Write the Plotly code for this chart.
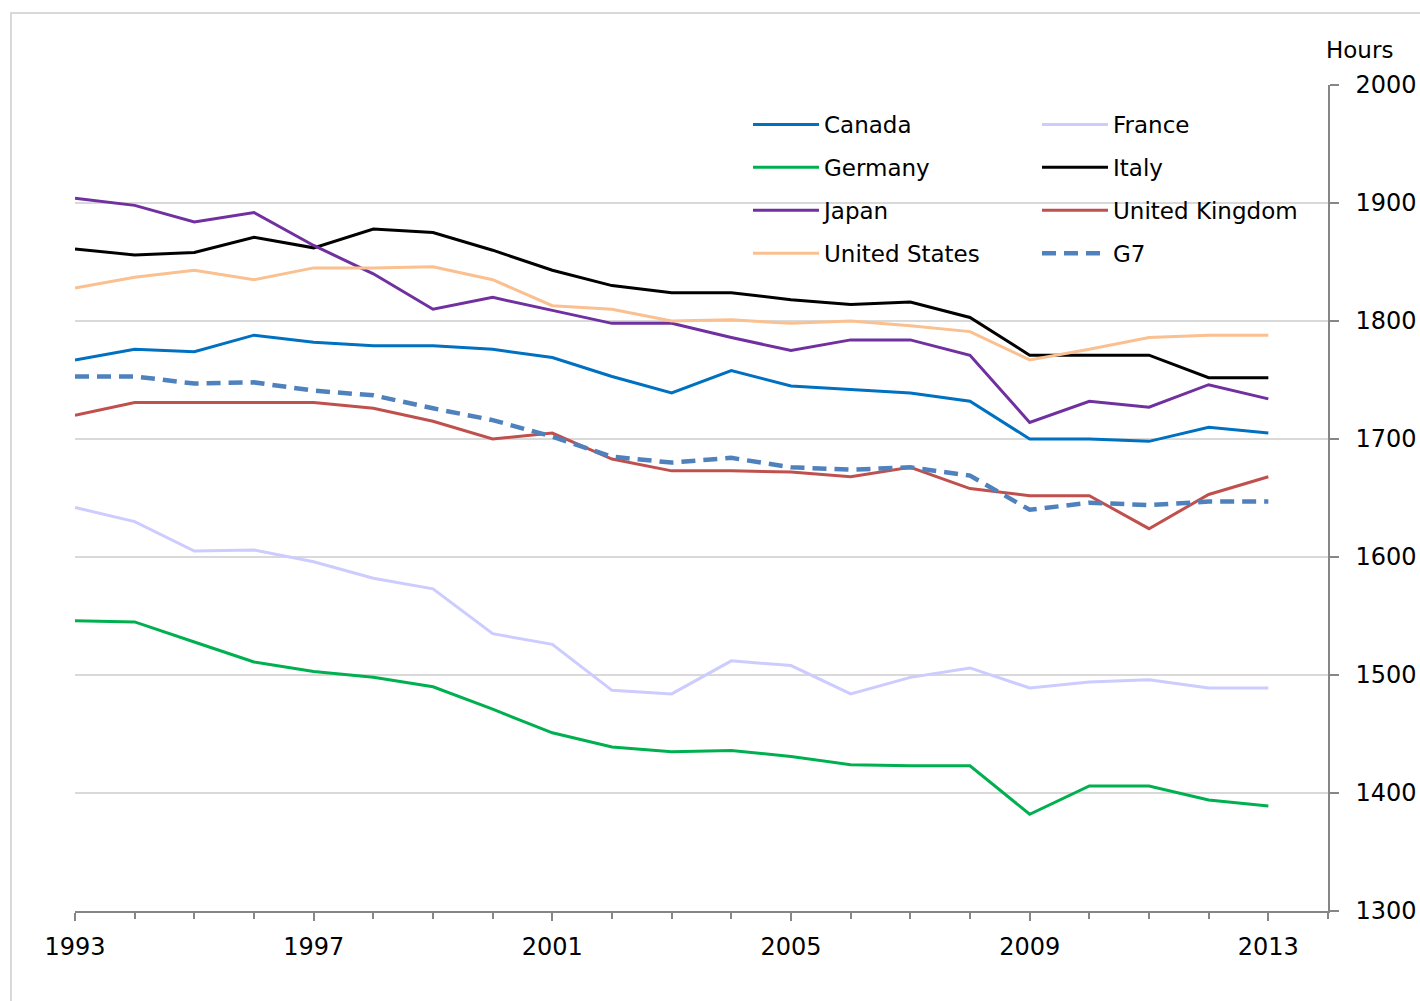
import plotly.graph_objects as go

years = list(range(1993, 2014))

canada = [1767, 1776, 1774, 1788, 1782, 1779, 1779, 1776, 1769, 1753, 1739,
          1758, 1745, 1742, 1739, 1732, 1700, 1700, 1698, 1710, 1705]
france = [1642, 1630, 1605, 1606, 1596, 1582, 1573, 1535, 1526, 1487, 1484,
          1512, 1508, 1484, 1498, 1506, 1489, 1494, 1496, 1489, 1489]
germany = [1546, 1545, 1528, 1511, 1503, 1498, 1490, 1471, 1451, 1439, 1435,
           1436, 1431, 1424, 1423, 1423, 1382, 1406, 1406, 1394, 1389]
italy = [1861, 1856, 1858, 1871, 1862, 1878, 1875, 1860, 1843, 1830, 1824,
         1824, 1818, 1814, 1816, 1803, 1771, 1771, 1771, 1752, 1752]
japan = [1904, 1898, 1884, 1892, 1864, 1840, 1810, 1820, 1809, 1798, 1798,
         1786, 1775, 1784, 1784, 1771, 1714, 1732, 1727, 1746, 1734]
uk = [1720, 1731, 1731, 1731, 1731, 1726, 1715, 1700, 1705, 1683, 1673,
      1673, 1672, 1668, 1676, 1658, 1652, 1652, 1624, 1653, 1668]
us = [1828, 1837, 1843, 1835, 1845, 1845, 1846, 1835, 1813, 1810, 1800,
      1801, 1798, 1800, 1796, 1791, 1767, 1776, 1786, 1788, 1788]
g7 = [1753, 1753, 1747, 1748, 1741, 1737, 1726, 1716, 1702, 1685, 1680,
      1684, 1676, 1674, 1676, 1669, 1640, 1646, 1644, 1647, 1647]

series = [
    ("Canada", canada, "#0070c0", "solid", 3, "legend"),
    ("France", france, "#ccccff", "solid", 3, "legend2"),
    ("Germany", germany, "#00b050", "solid", 3, "legend"),
    ("Italy", italy, "#000000", "solid", 3, "legend2"),
    ("Japan", japan, "#7030a0", "solid", 3, "legend"),
    ("United Kingdom", uk, "#c0504d", "solid", 3, "legend2"),
    ("United States", us, "#fac090", "solid", 3, "legend"),
    ("G7", g7, "#4f81bd", "14px,8px", 4.5, "legend2"),
]

FONT = "DejaVu Sans, Verdana, sans-serif"

fig = go.Figure()
for name, vals, color, dash, width, leg in series:
    fig.add_trace(go.Scatter(
        x=years, y=vals, mode="lines", name=name,
        line=dict(color=color, width=width, dash=dash),
        legend=leg, legendgroup=name,
    ))

L, R, T, B = 75, 92, 85, 90
W, H = 1420, 1001
pw, ph = W - L - R, H - T - B

def px_x(p):
    return (p - L) / pw

def px_y(p):
    return (H - B - p) / ph

legend_common = dict(
    font=dict(family=FONT, size=23, color="#000000"),
    bgcolor="rgba(0,0,0,0)", borderwidth=0, orientation="v",
    xanchor="left", yanchor="top", tracegroupgap=10, itemwidth=66,
    traceorder="grouped",
)

fig.update_layout(
    width=W, height=H, autosize=False,
    margin=dict(l=L, r=R, t=T, b=B, autoexpand=False),
    paper_bgcolor="white", plot_bgcolor="white",
    font=dict(family=FONT, size=24, color="#000000"),
    showlegend=True,
    legend=dict(x=px_x(748), y=px_y(103), **legend_common),
    legend2=dict(x=px_x(1037), y=px_y(103), **legend_common),
    xaxis=dict(
        range=[1993, 2014], tickmode="linear", tick0=1993, dtick=4,
        automargin=False,
        showgrid=False, zeroline=False, showline=True, linecolor="#868686",
        linewidth=1.5, ticks="outside", ticklen=8, tickcolor="#868686",
        tickwidth=1.5, tickfont=dict(family=FONT, size=24, color="#000000"),
        ticklabelstandoff=5,
        minor=dict(ticks="outside", ticklen=6, dtick=1, tick0=1993,
                   tickcolor="#868686", tickwidth=1.5, showgrid=False),
    ),
    yaxis=dict(
        side="right", range=[1300, 2000], tickmode="linear", tick0=1300,
        dtick=100, automargin=False,
        showgrid=True, gridcolor="#d9d9d9", gridwidth=1.5,
        zeroline=False, showline=True, linecolor="#868686", linewidth=1.5,
        ticks="outside", ticklen=9, tickcolor="#868686", tickwidth=1.5,
        tickfont=dict(family=FONT, size=24, color="#000000"),
        ticklabelstandoff=12,
    ),
    shapes=[dict(type="rect", xref="paper", yref="paper",
                 x0=px_x(11), x1=px_x(1500), y0=px_y(1100), y1=px_y(13),
                 line=dict(color="#d9d9d9", width=2), layer="below")],
    annotations=[dict(text="Hours", xref="paper", yref="paper",
                      x=px_x(1359), y=px_y(50), showarrow=False,
                      xanchor="center", yanchor="middle",
                      font=dict(family=FONT, size=23, color="#000000"))],
)

fig.write_html(
    "out.html",
    config={"displayModeBar": False},
    post_script="document.body.style.margin='0';document.body.style.overflow='hidden';",
)
